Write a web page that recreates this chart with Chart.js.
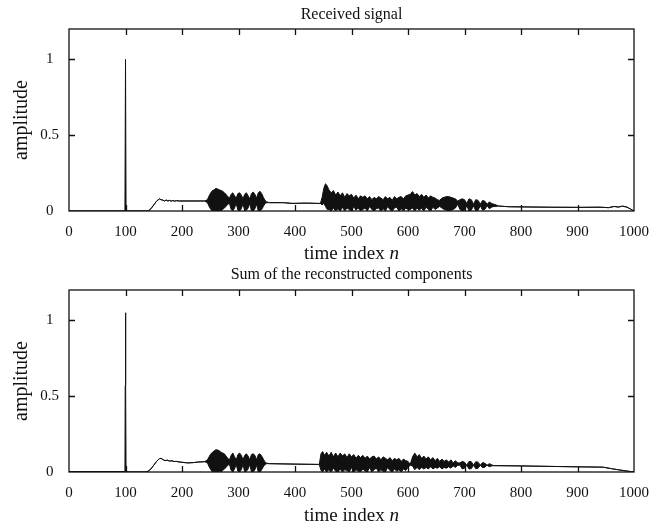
<!DOCTYPE html>
<html>
<head>
<meta charset="utf-8">
<script src="https://cdn.jsdelivr.net/npm/chart.js@4.4.0/dist/chart.umd.min.js"></script>
<style>
  body { margin: 0; background: #fff; width: 666px; height: 528px; position: relative; overflow: hidden; font-family: 'Liberation Serif', serif; color: #111; }
  .panel { position: absolute; left: 0; width: 666px; height: 250px; }
  .lbl { position: absolute; left: 69px; width: 565px; text-align: center; white-space: nowrap; }
  .ttl { font-size: 16px; line-height: 18px; }
  .xlab { font-size: 19px; line-height: 20px; }
</style>
</head>
<body>
<div class="panel" style="top:0"><canvas id="chartReceived" width="666" height="250"></canvas></div>
<div class="panel" style="top:261px"><canvas id="chartSum" width="666" height="250"></canvas></div>
<div class="lbl ttl" style="top:5px">Received signal</div>
<div class="lbl xlab" style="top:243px">time index <i>n</i></div>
<div class="lbl ttl" style="top:265px">Sum of the reconstructed components</div>
<div class="lbl xlab" style="top:505px">time index <i>n</i></div>
<script>
/* ---------- Data (signal envelopes) ---------- */
const xTicks = [0, 100, 200, 300, 400, 500, 600, 700, 800, 900, 1000];
const yTicks = [0, 0.5, 1];

// Received signal: sample index n, upper / lower envelope
const nRecv = [0, 99, 100, 101, 140, 145, 150, 155, 160, 163, 166, 169, 172, 175, 178, 181, 184, 187, 190, 195, 200, 240,
  245, 248, 251, 254, 257, 260, 263, 266, 269, 272, 275, 278, 281, 284, 287, 290, 293, 296, 299, 302, 305, 308, 311, 314, 317, 320, 323, 326, 329, 332, 335, 338, 341, 344, 347, 350,
  355, 380, 395, 420, 440,
  445, 448, 451, 454, 457, 460, 464, 468, 472, 476, 480, 484, 488, 492, 496, 500, 504, 508, 512, 516, 520, 524, 528, 532, 536, 540, 544, 548, 552, 556, 560, 564, 568, 572, 576, 580, 584, 588, 592, 596, 600,
  604, 608, 612, 616, 620, 624, 628, 632, 636, 640, 644, 648, 652, 656, 660, 664, 668, 672, 676, 680, 684, 688, 692, 696, 700, 704, 708, 712, 716, 720, 724, 728, 732, 736, 740, 744, 748, 752, 756, 760,
  770, 780, 800, 850, 900, 940, 955, 965, 972, 980, 988, 995, 1000];
const hiRecv = [0, 0, 1.0, 0, 0, 0.015, 0.04, 0.065, 0.08, 0.074, 0.072, 0.066, 0.072, 0.066, 0.07, 0.065, 0.069, 0.065, 0.068, 0.066, 0.066, 0.066,
  0.075, 0.10, 0.12, 0.135, 0.14, 0.15, 0.145, 0.14, 0.135, 0.13, 0.12, 0.11, 0.095, 0.085, 0.11, 0.12, 0.10, 0.085, 0.115, 0.12, 0.105, 0.08, 0.11, 0.12, 0.10, 0.08, 0.115, 0.125, 0.11, 0.085, 0.12, 0.13, 0.115, 0.09, 0.07, 0.06,
  0.055, 0.055, 0.05, 0.052, 0.05,
  0.05, 0.09, 0.15, 0.18, 0.165, 0.14, 0.12, 0.135, 0.105, 0.125, 0.10, 0.12, 0.09, 0.115, 0.10, 0.11, 0.085, 0.105, 0.08, 0.10, 0.09, 0.10, 0.08, 0.095, 0.075, 0.09, 0.08, 0.095, 0.085, 0.075, 0.095, 0.08, 0.09, 0.07, 0.095, 0.08, 0.09, 0.095, 0.08, 0.10, 0.105,
  0.11, 0.128, 0.105, 0.115, 0.095, 0.11, 0.09, 0.105, 0.085, 0.10, 0.09, 0.085, 0.075, 0.07, 0.085, 0.09, 0.095, 0.095, 0.09, 0.085, 0.08, 0.065, 0.075, 0.08, 0.075, 0.05, 0.08, 0.075, 0.045, 0.075, 0.07, 0.045, 0.07, 0.065, 0.045, 0.06, 0.05, 0.045, 0.04, 0.033,
  0.03, 0.028, 0.027, 0.025, 0.024, 0.025, 0.022, 0.03, 0.026, 0.032, 0.025, 0.01, 0];
const loRecv = [0, 0, 0, 0, 0, 0.015, 0.04, 0.065, 0.08, 0.074, 0.072, 0.066, 0.072, 0.066, 0.07, 0.065, 0.069, 0.065, 0.068, 0.066, 0.066, 0.066,
  0.055, 0.03, 0.01, 0, 0.005, 0, 0, 0.005, 0, 0.01, 0.02, 0.03, 0.045, 0.05, 0.01, 0, 0.02, 0.05, 0.005, 0, 0.015, 0.05, 0, 0.005, 0.02, 0.05, 0, 0, 0.015, 0.045, 0, 0, 0.01, 0.03, 0.05, 0.055,
  0.055, 0.055, 0.05, 0.052, 0.05,
  0.05, 0.04, 0.05, 0.03, 0.01, 0.01, 0, 0.02, 0, 0.015, 0, 0.025, 0, 0.02, 0.01, 0, 0.03, 0.005, 0.02, 0, 0.01, 0.02, 0, 0.03, 0.01, 0, 0.015, 0.02, 0, 0.015, 0, 0.03, 0.01, 0, 0.02, 0.025, 0, 0.015, 0, 0.02, 0.01,
  0.01, 0.02, 0, 0.02, 0.005, 0.02, 0, 0.025, 0.01, 0, 0.025, 0.01, 0.02, 0.03, 0.02, 0.01, 0.005, 0, 0.005, 0.01, 0.02, 0.045, 0.01, 0, 0.005, 0.035, 0, 0.005, 0.035, 0, 0.005, 0.035, 0.005, 0.01, 0.035, 0.015, 0.025, 0.03, 0.03, 0.033,
  0.03, 0.028, 0.027, 0.025, 0.024, 0.025, 0.022, 0.03, 0.026, 0.032, 0.025, 0.01, 0];

// Sum of the reconstructed components: sample index n, upper / lower envelope
const nSum = [0, 99, 99.5, 100, 100.5, 101, 135, 140, 145, 150, 155, 160, 163, 167, 170, 174, 178, 182, 186, 190, 195, 200, 210, 220, 230, 240,
  245, 248, 251, 254, 257, 260, 263, 266, 269, 272, 275, 278, 281, 284, 287, 290, 293, 296, 299, 302, 305, 308, 311, 314, 317, 320, 323, 326, 329, 332, 335, 338, 341, 344, 347, 350,
  355, 400, 440,
  443, 446, 449, 452, 456, 460, 464, 468, 472, 476, 480, 484, 488, 492, 496, 500, 504, 508, 512, 516, 520, 524, 528, 532, 536, 540, 544, 548, 552, 556, 560, 564, 568, 572, 576, 580, 584, 588, 592, 596, 600, 604,
  608, 612, 616, 620, 624, 628, 632, 636, 640, 644, 648, 652, 656, 660, 664, 668, 672, 676, 680, 684, 688, 692,
  696, 700, 704, 708, 712, 716, 720, 724, 728, 732, 736, 740, 744, 748, 752,
  800, 900, 945, 960, 975, 990, 1000];
const hiSum = [0.003, 0.003, 0.57, 1.05, 0.57, 0, 0, 0.005, 0.02, 0.045, 0.07, 0.088, 0.09, 0.08, 0.075, 0.078, 0.072, 0.074, 0.069, 0.07, 0.066, 0.064, 0.06, 0.062, 0.066, 0.068,
  0.08, 0.10, 0.12, 0.13, 0.14, 0.147, 0.145, 0.14, 0.13, 0.125, 0.12, 0.105, 0.09, 0.08, 0.11, 0.125, 0.10, 0.08, 0.115, 0.125, 0.11, 0.08, 0.11, 0.12, 0.105, 0.08, 0.115, 0.12, 0.11, 0.08, 0.115, 0.12, 0.105, 0.085, 0.065, 0.058,
  0.055, 0.052, 0.05,
  0.05, 0.12, 0.135, 0.11, 0.13, 0.105, 0.13, 0.10, 0.125, 0.10, 0.125, 0.105, 0.12, 0.095, 0.12, 0.10, 0.115, 0.09, 0.11, 0.095, 0.11, 0.09, 0.105, 0.085, 0.10, 0.105, 0.085, 0.10, 0.08, 0.10, 0.09, 0.08, 0.095, 0.075, 0.09, 0.08, 0.09, 0.07, 0.085, 0.075, 0.07, 0.05,
  0.10, 0.125, 0.10, 0.115, 0.09, 0.105, 0.085, 0.10, 0.08, 0.095, 0.075, 0.09, 0.07, 0.085, 0.07, 0.08, 0.065, 0.08, 0.06, 0.075, 0.06, 0.06,
  0.07, 0.065, 0.045, 0.07, 0.068, 0.045, 0.068, 0.065, 0.045, 0.062, 0.058, 0.045, 0.055, 0.048, 0.042,
  0.04, 0.034, 0.032, 0.022, 0.013, 0.005, 0];
const loSum = [0.003, 0.003, 0, 0, 0, 0, 0, 0.005, 0.02, 0.045, 0.07, 0.088, 0.09, 0.08, 0.075, 0.078, 0.072, 0.074, 0.069, 0.07, 0.066, 0.064, 0.06, 0.062, 0.066, 0.068,
  0.06, 0.035, 0.015, 0, 0.005, 0, 0, 0.005, 0, 0.01, 0.02, 0.03, 0.045, 0.05, 0.01, 0, 0.02, 0.05, 0.005, 0, 0.015, 0.05, 0, 0.005, 0.02, 0.05, 0, 0, 0.015, 0.045, 0, 0, 0.015, 0.035, 0.05, 0.055,
  0.055, 0.052, 0.05,
  0.05, 0.01, 0, 0.02, 0, 0.015, 0, 0.025, 0.005, 0, 0.02, 0, 0.015, 0.01, 0, 0.03, 0, 0.015, 0.005, 0, 0.02, 0.005, 0, 0.03, 0, 0.015, 0.025, 0, 0.015, 0.005, 0, 0.03, 0.01, 0, 0.02, 0.005, 0.015, 0, 0.02, 0.01, 0.03, 0.045,
  0.04, 0.015, 0.03, 0.015, 0.03, 0.02, 0.03, 0.02, 0.035, 0.02, 0.03, 0.025, 0.035, 0.02, 0.03, 0.025, 0.035, 0.025, 0.04, 0.03, 0.045, 0.045,
  0.02, 0.025, 0.045, 0.02, 0.022, 0.045, 0.022, 0.025, 0.045, 0.028, 0.032, 0.045, 0.035, 0.04, 0.042,
  0.04, 0.034, 0.032, 0.022, 0.013, 0.005, 0];

/* ---------- Box frame with inward ticks on all four sides ---------- */
const framePlugin = {
    id: 'frame',
    afterDraw(chart) {
        const { ctx, chartArea: a, scales: { x, y } } = chart;
        ctx.save();
        ctx.strokeStyle = '#111';
        ctx.lineWidth = 1.3;
        ctx.strokeRect(a.left, a.top, a.right - a.left, a.bottom - a.top);
        ctx.beginPath();
        xTicks.forEach(v => {
            if (v <= 0 || v >= 1000) return;
            const px = Math.round(x.getPixelForValue(v)) + 0.5;
            ctx.moveTo(px, a.bottom); ctx.lineTo(px, a.bottom - 6);
            ctx.moveTo(px, a.top); ctx.lineTo(px, a.top + 6);
        });
        yTicks.forEach(v => {
            if (v <= 0) return;
            const py = Math.round(y.getPixelForValue(v)) + 0.5;
            ctx.moveTo(a.left, py); ctx.lineTo(a.left + 6, py);
            ctx.moveTo(a.right, py); ctx.lineTo(a.right - 6, py);
        });
        ctx.stroke();
        ctx.restore();
    }
};

const FONT = "'Liberation Serif', serif";

function makeSignalChart(canvasId, n, hi, lo) {
    const ctx = document.getElementById(canvasId);
    return new Chart(ctx, {
        type: 'line',
        data: {
            datasets: [{
                data: n.map((v, i) => ({ x: v, y: hi[i] })),
                borderColor: '#111', borderWidth: 1, pointRadius: 0, fill: false
            }, {
                data: n.map((v, i) => ({ x: v, y: lo[i] })),
                borderColor: '#111', borderWidth: 1, pointRadius: 0,
                fill: '-1', backgroundColor: '#111'
            }]
        },
        options: {
            responsive: false, animation: false,
            layout: { padding: { left: 0, right: 32, top: 29, bottom: 9 } },
            plugins: { legend: { display: false }, tooltip: { enabled: false } },
            scales: {
                x: {
                    type: 'linear', min: 0, max: 1000,
                    grid: { display: false }, border: { display: false },
                    ticks: { stepSize: 100, color: '#111', padding: 4, maxRotation: 0,
                             font: { family: FONT, size: 15 }, callback: v => String(v) },
                    afterFit: s => { s.height = 30; }
                },
                y: {
                    min: 0, max: 1.2,
                    grid: { display: false }, border: { display: false },
                    ticks: { stepSize: 0.5, includeBounds: false, color: '#111', padding: 2,
                             crossAlign: 'center',
                             font: { family: FONT, size: 15 }, callback: v => String(v) },
                    title: { display: true, text: 'amplitude', color: '#111',
                             font: { family: FONT, size: 20 }, padding: { top: 10, bottom: 0 } },
                    afterFit: s => { s.width = 69; }
                }
            }
        },
        plugins: [framePlugin]
    });
}

makeSignalChart('chartReceived', nRecv, hiRecv, loRecv);
makeSignalChart('chartSum', nSum, hiSum, loSum);
</script>
</body>
</html>
